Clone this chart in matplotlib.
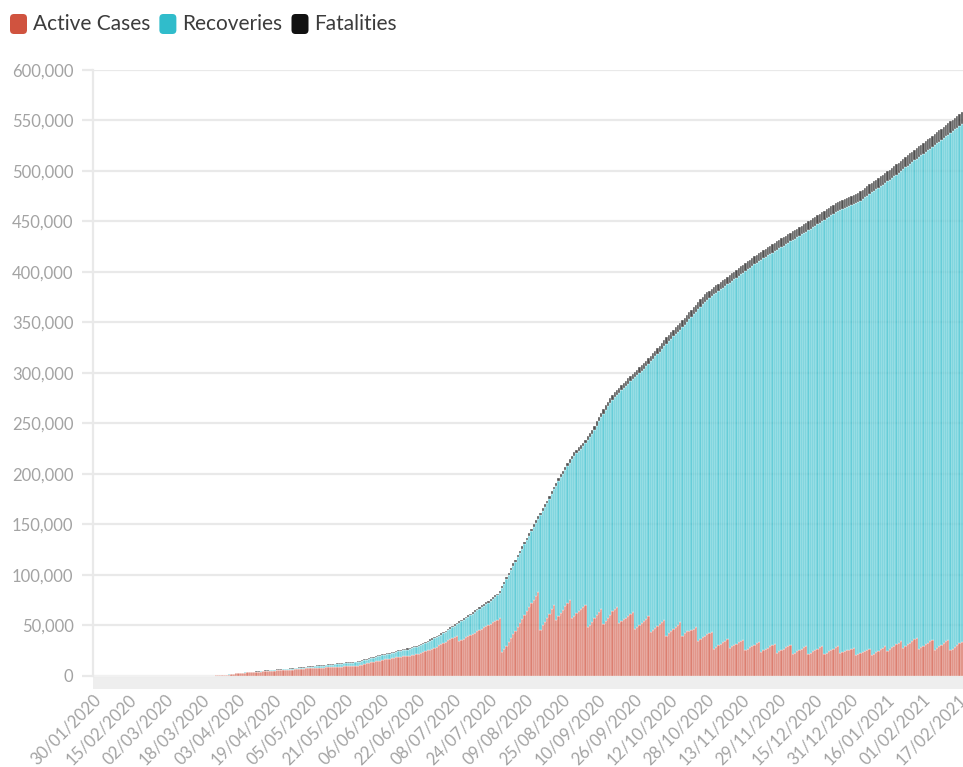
import datetime
import numpy as np
import matplotlib
matplotlib.use("Agg")
import matplotlib.pyplot as plt
import matplotlib.transforms as mtransforms
from matplotlib.patches import FancyBboxPatch
from matplotlib.ticker import FuncFormatter, MultipleLocator

# daily values in thousands, first day 30/01/2020
start_date = datetime.date(2020, 1, 30)

confirmed = [
    # 30/01 - 29/02
    0.001, 0.001, 0.001, 0.002, 0.002, 0.003, 0.003, 0.003, 0.003, 0.003,
    0.003, 0.003, 0.003, 0.003, 0.003, 0.003, 0.003, 0.003, 0.003, 0.003,
    0.003, 0.003, 0.003, 0.003, 0.003, 0.003, 0.003, 0.003, 0.003, 0.003, 0.003,
    # March
    0.003, 0.003, 0.003, 0.003, 0.003, 0.005, 0.006, 0.010, 0.020, 0.024,
    0.049, 0.052, 0.064, 0.111, 0.140, 0.142, 0.187, 0.202, 0.217, 0.230,
    0.307, 0.380, 0.462, 0.552, 0.636, 0.707, 0.803, 1.075, 1.418, 1.546, 2.084,
    # April
    2.311, 2.633, 3.018, 3.094, 3.246, 3.660, 3.764, 3.870, 4.076, 4.195,
    4.428, 4.648, 4.932, 5.223, 5.453, 5.660, 5.878, 6.087, 6.259, 6.459,
    6.599, 6.710, 6.981, 7.192, 7.294, 7.579, 7.777, 7.958, 8.212, 8.488,
    # May
    8.772, 8.928, 9.223, 9.485, 9.684, 10.004, 10.343, 10.463, 10.610, 10.794,
    11.086, 11.350, 11.618, 11.876, 12.091, 12.305, 12.513, 12.718, 12.942, 13.221,
    13.434, 13.597, 13.777, 14.035, 14.319, 14.669, 15.049, 15.588, 16.634, 17.224, 18.086,
    # June
    18.638, 18.997, 19.748, 20.382, 20.626, 21.340, 21.895, 22.474, 22.992, 23.732,
    24.175, 24.787, 25.392, 25.930, 26.420, 26.781, 27.238, 27.799, 28.459, 29.400,
    30.052, 31.0, 32.1, 33.0, 34.0, 35.1, 36.2, 37.3, 38.5, 39.8,
    # July
    41.0, 42.3, 43.6, 45.0, 46.5, 48.0, 49.6, 51.2, 52.8, 54.3,
    55.8, 57.3, 58.8, 60.3, 61.8, 63.4, 65.0, 66.6, 68.2, 69.8,
    71.4, 73.0, 74.6, 76.3, 78.0, 79.8, 81.6, 84.5, 88.6, 93.0, 97.6,
    # August
    102.0, 106.6, 111.4, 115.2, 119.6, 124.1, 128.3, 132.6, 137.0, 141.4,
    145.5, 150.3, 154.1, 158.0, 161.6, 165.9, 169.8, 173.5, 178.1, 183.0,
    187.6, 191.2, 195.9, 199.6, 203.1, 207.2, 211.0, 214.6, 218.2, 221.3, 224.0,
    # September
    226.3, 228.6, 230.9, 234.1, 237.4, 240.5, 243.6, 247.8, 252.1, 256.5,
    260.3, 264.2, 268.0, 271.6, 275.0, 278.3, 281.0, 283.2, 285.4, 287.9,
    290.1, 292.3, 294.6, 296.8, 299.1, 301.3, 303.4, 305.5, 307.6, 309.7,
    # October
    312.0, 314.5, 317.1, 319.6, 322.2, 324.6, 327.0, 329.8, 332.6, 335.2,
    337.9, 340.4, 342.8, 345.1, 347.4, 349.6, 352.0, 354.6, 357.3, 360.0,
    362.6, 365.1, 367.7, 370.2, 372.8, 375.4, 377.9, 379.8, 381.6, 383.3, 385.0,
    # November
    386.7, 388.4, 390.1, 391.8, 393.5, 395.2, 396.9, 398.6, 400.4, 402.1,
    403.8, 405.5, 407.2, 408.9, 410.6, 412.3, 414.0, 415.6, 417.2, 418.7,
    420.2, 421.7, 423.2, 424.7, 426.2, 427.6, 429.0, 430.4, 431.8, 433.2,
    # December
    434.6, 436.0, 437.4, 438.8, 440.2, 441.6, 443.0, 444.4, 445.9, 447.3,
    448.7, 450.1, 451.6, 453.1, 454.6, 456.1, 457.6, 459.1, 460.6, 462.1,
    463.6, 465.1, 466.6, 468.0, 469.2, 470.3, 471.4, 472.5, 473.5, 474.5, 475.5,
    # January 2021
    476.5, 477.5, 478.6, 480.0, 481.6, 483.3, 485.0, 486.7, 488.3, 489.9,
    491.5, 493.1, 494.7, 496.3, 497.9, 499.6, 501.3, 503.0, 504.8, 506.6,
    508.4, 510.2, 512.0, 513.8, 515.6, 517.4, 519.2, 521.0, 522.8, 524.5, 526.2,
    # February 2021
    527.9, 529.6, 531.3, 533.0, 534.7, 536.5, 538.3, 540.1, 541.9, 543.7,
    545.5, 547.3, 549.1, 550.9, 552.7, 554.5, 556.4, 558.4,
]

active = [
    0.001, 0.001, 0.0, 0.001, 0.001, 0.002, 0.002, 0.002, 0.002, 0.002,
    0.002, 0.002, 0.002, 0.002, 0.002, 0.002, 0.0, 0.0, 0.0, 0.0,
    0.0, 0.0, 0.0, 0.0, 0.0, 0.0, 0.0, 0.0, 0.0, 0.0, 0.0,
    # March
    0.0, 0.0, 0.0, 0.0, 0.0, 0.002, 0.003, 0.007, 0.017, 0.021,
    0.045, 0.048, 0.057, 0.101, 0.127, 0.128, 0.171, 0.180, 0.192, 0.204,
    0.275, 0.340, 0.411, 0.497, 0.572, 0.634, 0.718, 0.972, 1.305, 1.426, 1.947,
    # April
    2.165, 2.475, 2.830, 2.893, 3.030, 3.424, 3.503, 3.592, 3.749, 3.834,
    4.024, 4.154, 4.375, 4.593, 4.751, 4.863, 5.004, 5.174, 5.278, 5.418,
    5.508, 5.571, 5.797, 5.953, 6.008, 6.216, 6.334, 6.453, 6.631, 6.877,
    # May
    7.109, 7.201, 7.402, 7.547, 7.639, 7.840, 8.040, 8.033, 8.064, 8.151,
    8.348, 8.493, 8.595, 8.749, 8.825, 8.927, 9.054, 9.158, 9.262, 9.447,
    9.559, 9.642, 9.727, 9.900, 10.092, 10.336, 10.606, 11.040, 11.959, 12.459, 13.217,
    # June
    13.57, 13.82, 14.56, 15.09, 15.22, 15.82, 16.37, 16.84, 17.14, 17.66,
    17.89, 18.29, 18.69, 19.03, 19.31, 19.47, 19.61, 19.95, 20.30, 20.93,
    21.28, 21.91, 22.80, 23.49, 24.38, 25.28, 26.16, 27.06, 28.05, 29.13,
    # July
    30.2, 31.3, 32.5, 33.8, 35.2, 36.6, 37.6, 38.5, 39.3, 35.0,
    35.6, 36.8, 38.1, 39.4, 40.6, 41.8, 43.0, 44.2, 45.4, 46.7,
    48.0, 49.2, 50.5, 51.8, 53.1, 54.4, 55.7, 57.0, 23.5, 26.4, 29.6,
    # August
    33.5, 37.4, 41.2, 44.9, 48.9, 52.7, 56.5, 60.4, 64.2, 68.0,
    71.9, 75.7, 79.4, 83.2, 46.0, 50.1, 53.8, 57.3, 61.7, 66.2,
    70.6, 55.0, 58.9, 62.0, 65.1, 68.8, 72.2, 75.5, 57.0, 59.8, 62.2,
    # September
    64.2, 66.2, 68.2, 70.6, 48.0, 50.8, 53.6, 57.0, 60.3, 63.6,
    66.7, 51.0, 54.3, 57.6, 60.8, 63.9, 66.5, 68.6, 52.5, 54.3,
    56.0, 57.7, 59.5, 61.2, 63.0, 46.5, 48.5, 50.5, 52.5, 54.5,
    # October
    56.7, 59.0, 44.0, 45.9, 47.8, 49.6, 51.4, 53.3, 55.3, 40.0,
    42.2, 44.4, 46.6, 48.7, 50.9, 53.0, 40.0, 42.5, 44.5, 45.0,
    45.3, 46.5, 48.0, 35.0, 36.6, 38.2, 39.8, 41.2, 42.6, 44.0, 27.0,
    # November
    28.6, 30.2, 31.8, 33.4, 35.0, 36.6, 28.0, 29.3, 30.7, 32.0,
    33.3, 34.6, 36.0, 25.5, 26.9, 28.3, 29.7, 31.1, 32.6, 34.0,
    24.0, 25.3, 26.6, 28.0, 29.3, 30.6, 31.9, 23.0, 24.3, 25.6,
    # December
    26.9, 28.2, 29.5, 30.8, 22.0, 23.2, 24.5, 25.7, 27.0, 28.2,
    29.4, 22.0, 23.2, 24.5, 25.7, 27.0, 28.2, 29.4, 22.0, 23.2,
    24.5, 25.7, 27.0, 28.2, 29.3, 23.0, 23.8, 24.6, 25.4, 26.2, 27.1,
    # January 2021
    28.0, 20.6, 21.4, 22.3, 23.3, 24.3, 25.3, 26.4, 20.8, 22.2,
    23.7, 25.1, 26.6, 28.0, 29.5, 25.0, 26.6, 28.2, 29.9, 31.5,
    33.1, 34.6, 27.8, 29.5, 31.2, 32.9, 34.6, 36.3, 38.0, 27.0, 28.5,
    # February 2021
    30.0, 31.5, 33.0, 34.5, 36.0, 26.0, 27.7, 29.3, 30.9, 32.6,
    34.3, 35.9, 25.5, 27.2, 28.9, 30.6, 32.2, 34.0,
]

fatalities = [
    0.0, 0.0, 0.001, 0.001, 0.001, 0.001, 0.001, 0.001, 0.001, 0.001,
    0.001, 0.001, 0.001, 0.001, 0.001, 0.001, 0.001, 0.001, 0.001, 0.001,
    0.001, 0.001, 0.001, 0.001, 0.001, 0.001, 0.001, 0.001, 0.001, 0.001, 0.001,
    # March
    0.001, 0.001, 0.001, 0.001, 0.001, 0.001, 0.001, 0.001, 0.001, 0.001,
    0.002, 0.002, 0.005, 0.008, 0.011, 0.012, 0.014, 0.017, 0.017, 0.018,
    0.019, 0.025, 0.033, 0.035, 0.038, 0.045, 0.054, 0.068, 0.071, 0.078, 0.088,
    # April
    0.096, 0.107, 0.136, 0.144, 0.152, 0.163, 0.177, 0.182, 0.203, 0.221,
    0.247, 0.297, 0.315, 0.335, 0.349, 0.362, 0.387, 0.397, 0.409, 0.428,
    0.437, 0.446, 0.462, 0.477, 0.494, 0.501, 0.511, 0.530, 0.558, 0.568,
    # May
    0.579, 0.603, 0.607, 0.623, 0.637, 0.658, 0.685, 0.696, 0.704, 0.719,
    0.726, 0.751, 0.772, 0.790, 0.806, 0.817, 0.824, 0.831, 0.837, 0.842,
    0.857, 0.863, 0.873, 0.886, 0.904, 0.921, 0.937, 0.950, 0.955, 0.957, 0.960,
    # June
    0.966, 0.974, 0.984, 0.994, 1.011, 1.017, 1.027, 1.036, 1.052, 1.068,
    1.088, 1.098, 1.099, 1.103, 1.108, 1.116, 1.130, 1.150, 1.160, 1.169,
    1.177, 1.186, 1.204, 1.212, 1.219, 1.224, 1.236, 1.244, 1.255, 1.266,
    # July
    1.274, 1.290, 1.297, 1.306, 1.309, 1.314, 1.314, 1.330, 1.340, 1.372,
    1.387, 1.403, 1.534, 1.599, 1.614, 1.643, 1.660, 1.773, 1.831, 1.835,
    1.837, 1.843, 1.871, 1.879, 1.897, 1.903, 1.906, 1.932, 1.962, 2.023, 2.059,
    # August
    2.104, 2.115, 2.123, 2.150, 2.168, 2.209, 2.247, 2.270, 2.293, 2.347,
    2.404, 2.426, 2.442, 2.442, 2.459, 2.600, 2.681, 2.687, 2.757, 2.795,
    2.883, 2.966, 2.998, 3.010, 3.059, 3.108, 3.136, 3.325, 3.419, 3.520, 3.558,
    # September
    3.620, 3.646, 3.688, 3.737, 3.790, 3.856, 4.053, 4.066, 4.108, 4.171,
    4.292, 4.372, 4.405, 4.446, 4.630, 4.732, 4.830, 4.849, 4.930, 4.984,
    5.049, 5.073, 5.108, 5.162, 5.223, 5.250, 5.344, 5.381, 5.448, 5.504,
    # October
    5.566, 5.597, 5.660, 5.776, 5.840, 5.865, 5.986, 6.069, 6.165, 6.238,
    6.332, 6.372, 6.447, 6.497, 6.531, 6.603, 6.675, 6.690, 6.747, 6.750,
    6.785, 6.850, 6.918, 6.977, 7.039, 7.092, 7.147, 7.185, 7.210, 7.221, 7.238,
    # November
    7.269, 7.318, 7.367, 7.431, 7.489, 7.539, 7.564, 7.602, 7.634, 7.691,
    7.710, 7.743, 7.773, 7.810, 7.846, 7.882, 7.912, 7.947, 8.008, 8.062,
    8.123, 8.152, 8.165, 8.211, 8.264, 8.303, 8.336, 8.350, 8.392, 8.403,
    # December
    8.418, 8.446, 8.491, 8.526, 8.554, 8.573, 8.621, 8.675, 8.690, 8.701,
    8.733, 8.756, 8.789, 8.812, 8.828, 8.863, 8.875, 8.910, 8.947, 8.957,
    8.979, 9.005, 9.023, 9.062, 9.080, 9.101, 9.124, 9.162, 9.180, 9.209, 9.244,
    # January 2021
    9.248, 9.257, 9.263, 9.295, 9.299, 9.337, 9.405, 9.416, 9.536, 9.594,
    9.618, 9.641, 9.689, 9.739, 9.814, 9.895, 9.909, 9.978, 10.042, 10.129,
    10.190, 10.237, 10.292, 10.301, 10.376, 10.386, 10.405, 10.452, 10.524, 10.552, 10.578,
    # February 2021
    10.669, 10.723, 10.749, 10.817, 10.862, 10.942, 10.997, 11.059, 11.181, 11.185,
    11.231, 11.321, 11.342, 11.403, 11.457, 11.515, 11.743, 11.842,
]

tick_labels = ['30/01/2020', '15/02/2020', '02/03/2020', '18/03/2020', '03/04/2020',
               '19/04/2020', '05/05/2020', '21/05/2020', '06/06/2020', '22/06/2020',
               '08/07/2020', '24/07/2020', '09/08/2020', '25/08/2020', '10/09/2020',
               '26/09/2020', '12/10/2020', '28/10/2020', '13/11/2020', '29/11/2020',
               '15/12/2020', '31/12/2020', '16/01/2021', '01/02/2021', '17/02/2021']

series_names = ['Active Cases', 'Recoveries', 'Fatalities']
series_colors = ['#d0533f', '#30bccb', '#111111']

assert len(confirmed) == len(active) == len(fatalities)

n = len(confirmed)
dates = [(start_date + datetime.timedelta(days=i)).strftime('%d/%m/%Y') for i in range(n)]
x = np.arange(n)

act = np.array(active) * 1000
dead = np.array(fatalities) * 1000
rec = np.clip(np.array(confirmed) * 1000 - act - dead, 0, None)

plt.rcParams['font.family'] = ['Lato', 'DejaVu Sans']

W, H = 963, 767
fig = plt.figure(figsize=(W / 100, H / 100), dpi=100)
ax = fig.add_axes([93 / W, 1 - 689 / H, 870 / W, (689 - 70) / H])

grid_col = '#e9e9e9'
text_col = '#a3a3a3'

ax.axhspan(-12900, 0, color='#eeeeee', lw=0, zorder=0)

bottoms = [np.zeros(n), act, act + rec]
for vals, bot, col in zip([act, rec, dead], bottoms, series_colors):
    ax.bar(x, vals, bottom=bot, width=1.0, color=col, alpha=0.74,
           edgecolor='white', linewidth=0.35, zorder=2)

ax.set_xlim(-0.5, n - 0.5)
ax.set_ylim(-12900, 600000)
ax.yaxis.set_major_locator(MultipleLocator(50000))
ax.yaxis.set_major_formatter(FuncFormatter(lambda v, p: '{:,.0f}'.format(v)))
ax.grid(axis='y', color=grid_col, lw=1.6, zorder=1)
ax.set_axisbelow(True)

for s in ['top', 'right', 'bottom']:
    ax.spines[s].set_visible(False)
ax.spines['left'].set_color(grid_col)
ax.spines['left'].set_linewidth(1.6)
ax.spines['left'].set_bounds(0, 600000)

ax.tick_params(axis='y', length=8, width=1.6, color=grid_col, labelcolor=text_col,
               labelsize=12, pad=6)
ax.tick_params(axis='x', length=0, labelcolor=text_col, labelsize=12, pad=6)

ax.set_xticks([dates.index(t) for t in tick_labels])
ax.set_xticklabels(tick_labels, rotation=45, ha='right', rotation_mode='anchor', va='center')
shift = mtransforms.ScaledTranslation(4 / 100, 0, fig.dpi_scale_trans)
for lab in ax.get_xticklabels():
    lab.set_transform(lab.get_transform() + shift)

# legend
px = mtransforms.IdentityTransform()
lx = 10
for name, col in zip(series_names, series_colors):
    box = FancyBboxPatch((lx, H - 34), 17, 20, boxstyle='round,pad=0,rounding_size=4',
                         facecolor=col, edgecolor='none', transform=px)
    fig.patches.append(box)
    t = fig.text((lx + 23) / W, 1 - 24 / H, name, fontsize=15, color='#3c3c3c', va='center')
    fig.canvas.draw()
    bb = t.get_window_extent()
    lx = bb.x1 + 9

fig.savefig('out.png', dpi=100)
